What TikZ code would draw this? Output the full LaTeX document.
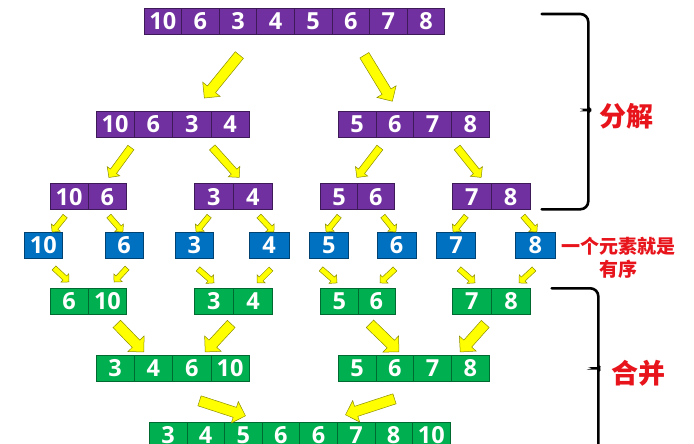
\documentclass[tikz,border=0pt]{standalone}
\usepackage{fontspec}
\setmainfont{Open Sans}
\newfontfamily\cjk{Noto Sans CJK SC}
\usetikzlibrary{shapes.arrows,calc}
\definecolor{ppurple}{HTML}{7030A0}
\definecolor{pblue}{HTML}{0070C0}
\definecolor{pgreen}{HTML}{00B050}
\definecolor{ayellow}{HTML}{FFFF00}
\definecolor{aedge}{HTML}{8C8C00}
\definecolor{tred}{HTML}{E8141C}
\tikzset{
 cell/.style={rectangle, inner sep=0pt, minimum height=26pt, text=white,
   font={\fontsize{23.5}{24}\selectfont\bfseries}, text height=16.8pt, text depth=0pt},
 pcell/.style={cell, fill=ppurple, draw=ppurple!55!black, line width=0.7pt},
 bcell/.style={cell, fill=pblue, draw=pblue!60!black, line width=0.7pt},
 gcell/.style={cell, fill=pgreen, draw=pgreen!60!black, line width=0.7pt},
 yarr/.style={single arrow, fill=ayellow, draw=aedge, line width=0.5pt, inner xsep=0pt, single arrow tip angle=90},
 bigarr/.style={yarr, inner ysep=5pt, single arrow head extend=6pt},
 midarr/.style={yarr, inner ysep=3.5pt, single arrow head extend=4pt},
 smallarr/.style={yarr, inner ysep=2.5pt, single arrow head extend=3pt},
 bracket/.style={draw=black, line width=2.6pt, line cap=round},
 note/.style={text=tred, font={\cjk\bfseries\fontsize{27}{30}\selectfont}},
 smallnote/.style={text=tred, align=center, font={\cjk\bfseries\fontsize{19}{23.3}\selectfont}}
}
% #1 name, #2 left x, #3 centre y, #4 cell width, #5 style, #6 values
\newcommand\cellrow[6]{%
  \foreach \v [count=\i] in {#6} {
    \node[#5, minimum width=#4pt] (#1-\i) at ({#2+(\i-0.5)*#4}, #3) {\v};
  }}
% #1 style, #2 tail, #3 tip
\newcommand\yarrow[3]{%
  \path let \p1=(#2), \p2=(#3), \n1={atan2(\y2-\y1,\x2-\x1)}, \n2={veclen(\x2-\x1,\y2-\y1)} in
    node[#1, minimum height=\n2, rotate=\n1] at ($(\p1)!0.5!(\p2)$) {};}
\begin{document}
\begin{tikzpicture}[x=1pt, y=-1pt]
\path[use as bounding box, fill=white] (0,0) rectangle (694,444);
\clip (0,0) rectangle (694,444);
% rows
\cellrow{ra}{144}{21.5}{37.6}{pcell}{10,6,3,4,5,6,7,8}
\cellrow{rbl}{96}{124.2}{38.3}{pcell}{10,6,3,4}
\cellrow{rbr}{338.3}{124.2}{37.75}{pcell}{5,6,7,8}
\cellrow{rc1}{50}{196.7}{38.3}{pcell}{10,6}
\cellrow{rc2}{194.3}{196.7}{39}{pcell}{3,4}
\cellrow{rc3}{320.7}{196.7}{36.8}{pcell}{5,6}
\cellrow{rc4}{452.5}{196.7}{38.75}{pcell}{7,8}
\cellrow{rd1}{24}{245.3}{38.7}{bcell}{10}
\cellrow{rd2}{105}{245.3}{38.3}{bcell}{6}
\cellrow{rd3}{175.3}{245.3}{38}{bcell}{3}
\cellrow{rd4}{249.3}{245.3}{39.7}{bcell}{4}
\cellrow{rd5}{309.3}{245.3}{39}{bcell}{5}
\cellrow{rd6}{377}{245.3}{39}{bcell}{6}
\cellrow{rd7}{436.7}{245.3}{39}{bcell}{7}
\cellrow{rd8}{515.7}{245.3}{39.3}{bcell}{8}
\cellrow{re1}{50}{301.3}{38.3}{gcell}{6,10}
\cellrow{re2}{194.3}{301.3}{39.2}{gcell}{3,4}
\cellrow{re3}{320.7}{301.3}{37.15}{gcell}{5,6}
\cellrow{re4}{452.3}{301.3}{39.2}{gcell}{7,8}
\cellrow{rfl}{96}{368.5}{38.3}{gcell}{3,4,6,10}
\cellrow{rfr}{338.3}{368.5}{37.75}{gcell}{5,6,7,8}
\cellrow{rg}{149.3}{435.5}{37.6}{gcell}{3,4,5,6,6,7,8,10}
% arrows row 1 -> 2
\yarrow{bigarr}{241,53}{206,96}
\yarrow{bigarr}{363,53}{391,99}
% row 2 -> 3
\yarrow{midarr}{132,146}{110,176}
\yarrow{midarr}{211,146}{238,176}
\yarrow{midarr}{381,146}{358,176}
\yarrow{midarr}{456,146}{480,176}
% row 3 -> 4
\yarrow{smallarr}{66,215}{53,231}
\yarrow{smallarr}{108,215}{122,231}
\yarrow{smallarr}{210,215}{197,231}
\yarrow{smallarr}{258,215}{273,231}
\yarrow{smallarr}{340,215}{327,231}
\yarrow{smallarr}{382,215}{395,231}
\yarrow{smallarr}{467,215}{454,231}
\yarrow{smallarr}{522,215}{536,231}
% row 4 -> 5
\yarrow{smallarr}{53,267}{68,281}
\yarrow{smallarr}{128,267}{115,281}
\yarrow{smallarr}{197,268}{213,282}
\yarrow{smallarr}{272,268}{258,282}
\yarrow{smallarr}{320,268}{336,282}
\yarrow{smallarr}{396,268}{381,282}
\yarrow{smallarr}{458,268}{474,282}
\yarrow{smallarr}{535,268}{520,282}
% row 5 -> 6
\yarrow{bigarr}{115,322}{142,350}
\yarrow{bigarr}{233,322}{207,350}
\yarrow{bigarr}{368,322}{397,350}
\yarrow{bigarr}{487,322}{462,350}
% row 6 -> 7
\yarrow{bigarr}{197,400}{243,415}
\yarrow{bigarr}{397,398}{348,414}
% braces
\draw[bracket, rounded corners=8pt] (541.7,14) -- (588.3,14) -- (588.3,101)
   .. controls (588.3,107) and (591,110) .. (596,110)
   .. controls (591,110) and (588.3,113) .. (588.3,119)
   -- (588.3,209.3) -- (541.7,209.3);
\draw[bracket, rounded corners=8pt] (551.7,288.3) -- (598.3,288.3) -- (598.3,359)
   .. controls (598.3,365) and (601,368.3) .. (605,368.3)
   .. controls (601,368.3) and (598.3,372) .. (598.3,378)
   -- (598.3,460);
% labels
\node[note] (fenjie) at (626.7,116.5) {分解};
\node[note] (hebing) at (638.3,373.3) {合并};
\node[smallnote] (youxu) at (618.7,257.7) {一个元素就是\\有序};
\end{tikzpicture}
\end{document}
